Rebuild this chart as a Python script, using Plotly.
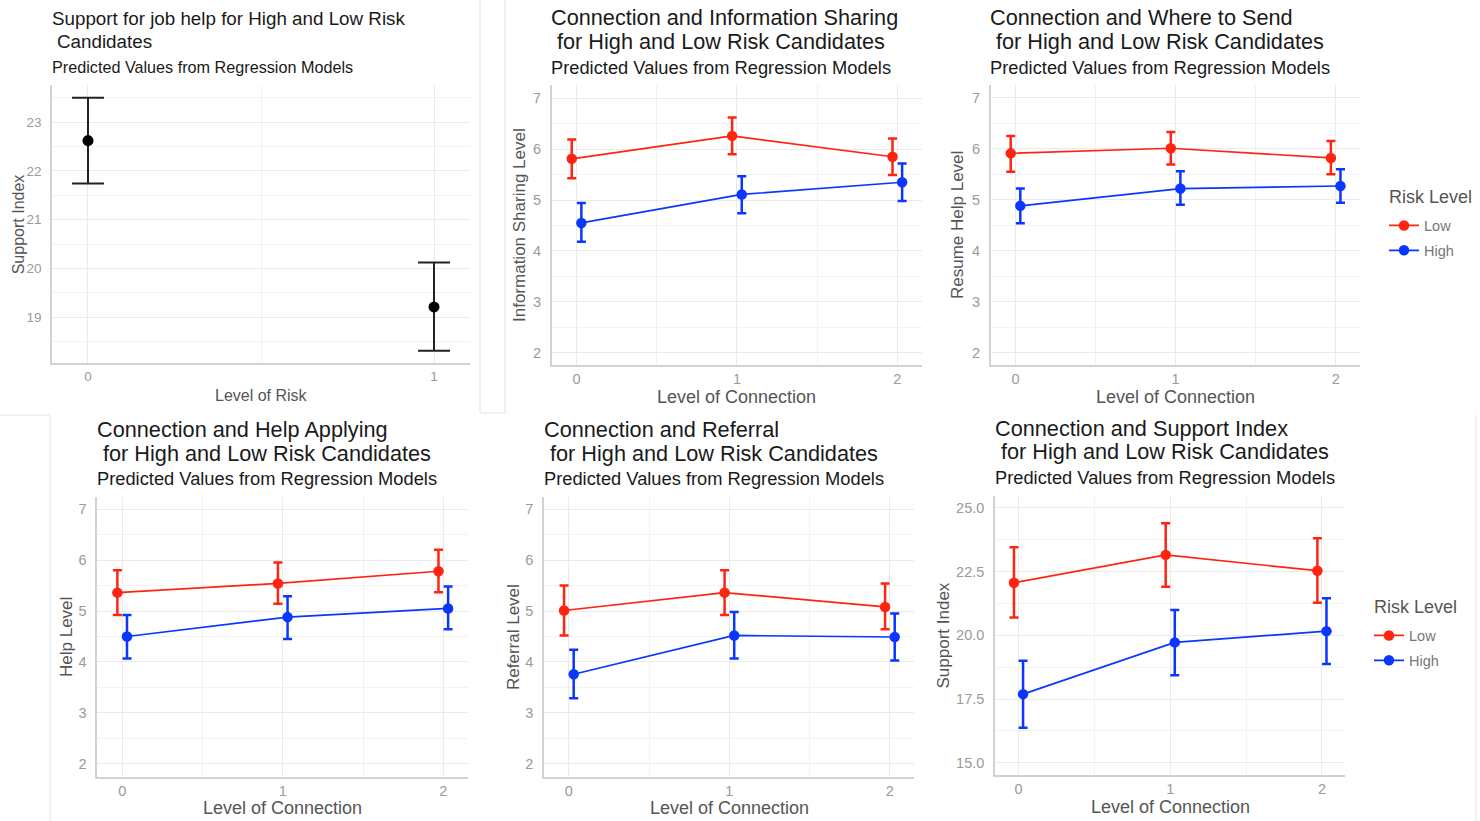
import plotly.graph_objects as go

W, H = 1480, 821

# ---------------- data ----------------
risk_levels = [0, 1]
risk_support = [22.62, 19.21]
risk_support_hi = [23.50, 20.12]
risk_support_lo = [21.74, 18.31]

connection = [0, 1, 2]
series_names = ["Low", "High"]

info_low = [5.81, 6.26, 5.85]
info_low_hi = [6.19, 6.62, 6.21]
info_low_lo = [5.43, 5.90, 5.49]
info_high = [4.55, 5.11, 5.35]
info_high_hi = [4.94, 5.47, 5.72]
info_high_lo = [4.18, 4.74, 4.98]

resume_low = [5.91, 6.01, 5.82]
resume_low_hi = [6.25, 6.33, 6.15]
resume_low_lo = [5.55, 5.69, 5.50]
resume_high = [4.88, 5.22, 5.27]
resume_high_hi = [5.22, 5.56, 5.60]
resume_high_lo = [4.54, 4.90, 4.94]

help_low = [5.36, 5.54, 5.78]
help_low_hi = [5.80, 5.95, 6.20]
help_low_lo = [4.92, 5.14, 5.37]
help_high = [4.50, 4.88, 5.05]
help_high_hi = [4.92, 5.29, 5.48]
help_high_lo = [4.07, 4.45, 4.64]

ref_low = [5.01, 5.36, 5.08]
ref_low_hi = [5.50, 5.80, 5.54]
ref_low_lo = [4.52, 4.92, 4.64]
ref_high = [3.76, 4.52, 4.49]
ref_high_hi = [4.24, 4.98, 4.95]
ref_high_lo = [3.29, 4.07, 4.03]

sup_low = [22.06, 23.15, 22.53]
sup_low_hi = [23.45, 24.39, 23.80]
sup_low_lo = [20.70, 21.90, 21.27]
sup_high = [17.69, 19.72, 20.16]
sup_high_hi = [19.00, 20.99, 21.45]
sup_high_lo = [16.37, 18.43, 18.87]

# ---------------- style ----------------
RED = "#ff2410"
BLUE = "#0a36ff"
GRID = "#ebebeb"
MINOR = "#f2f2f2"
AXLINE = "#d2d2d2"
TICK = "#9a9a9a"
AXTITLE = "#555555"
FONT = "Liberation Sans, Arial, sans-serif"
DODGE = 0.03

fig = go.Figure()


def px_x(p):
    return p / W


def px_y(p):
    return 1 - p / H


# panel geometry (pixels): x0, x1, ytop, ybottom
panels = [
    dict(x0=52, x1=470, yt=85, yb=363),
    dict(x0=551.7, x1=921.7, yt=85, yb=365),
    dict(x0=990.7, x1=1360, yt=85, yb=365),
    dict(x0=97.3, x1=467.7, yt=497.3, yb=776.7),
    dict(x0=544, x1=914.3, yt=497.3, yb=776.7),
    dict(x0=995, x1=1345, yt=496, yb=775),
]

xranges = [[-0.104, 1.104]] + [[-0.155, 2.152]] * 5
yranges = [[18.06, 23.76], [1.76, 7.26], [1.76, 7.25], [1.75, 7.23], [1.75, 7.23], [14.52, 25.46]]
ydt = [1, 1, 1, 1, 1, 2.5]
y0s = [19, 2, 2, 2, 2, 15]

layout_axes = {}
for i, p in enumerate(panels):
    n = "" if i == 0 else str(i + 1)
    tickfont = dict(family=FONT, size=13.5 if i == 0 else 14.5, color=TICK)
    layout_axes["xaxis" + n] = dict(
        domain=[px_x(p["x0"]), px_x(p["x1"])],
        anchor="y" + n,
        range=xranges[i],
        tickmode="linear", tick0=0, dtick=1,
        showgrid=True, gridcolor=GRID, gridwidth=1.2,
        minor=dict(dtick=0.5, tick0=0, showgrid=True, gridcolor=MINOR, gridwidth=1),
        showline=True, linecolor=AXLINE, linewidth=1.6,
        zeroline=False, ticks="", tickfont=tickfont, ticklabelstandoff=0,
        fixedrange=True,
    )
    layout_axes["yaxis" + n] = dict(
        domain=[px_y(p["yb"]), px_y(p["yt"])],
        anchor="x" + n,
        range=yranges[i],
        tickmode="linear", tick0=y0s[i], dtick=ydt[i],
        tickformat=".1f" if i == 5 else "d",
        showgrid=True, gridcolor=GRID, gridwidth=1.2,
        minor=dict(dtick=ydt[i] / 2, tick0=y0s[i], showgrid=True, gridcolor=MINOR, gridwidth=1),
        showline=True, linecolor=AXLINE, linewidth=1.6,
        zeroline=False, ticks="", tickfont=tickfont, ticklabelstandoff=6,
        fixedrange=True,
    )

# ---- panel 1 ----
fig.add_trace(go.Scatter(
    x=risk_levels, y=risk_support, mode="markers",
    marker=dict(color="black", size=11),
    error_y=dict(type="data", symmetric=False,
                 array=[h - v for h, v in zip(risk_support_hi, risk_support)],
                 arrayminus=[v - l for l, v in zip(risk_support_lo, risk_support)],
                 color="#222222", thickness=2, width=16),
    showlegend=False, xaxis="x", yaxis="y",
))


def add_pair(idx, low, low_hi, low_lo, high, high_hi, high_lo, legend=None):
    n = "" if idx == 0 else str(idx + 1)
    for name, vals, hi, lo, col, off in [
        ("Low", low, low_hi, low_lo, RED, -DODGE),
        ("High", high, high_hi, high_lo, BLUE, DODGE),
    ]:
        fig.add_trace(go.Scatter(
            x=[c + off for c in connection], y=vals, name=name,
            mode="lines+markers",
            line=dict(color=col, width=1.7),
            marker=dict(color=col, size=10.5),
            error_y=dict(type="data", symmetric=False,
                         array=[h - v for h, v in zip(hi, vals)],
                         arrayminus=[v - l for l, v in zip(lo, vals)],
                         color=col, thickness=2.5, width=4.5),
            showlegend=legend is not None,
            legend=legend if legend else "legend",
            legendgroup=(legend or "x") + name,
            xaxis="x" + n, yaxis="y" + n,
        ))


add_pair(1, info_low, info_low_hi, info_low_lo, info_high, info_high_hi, info_high_lo)
add_pair(2, resume_low, resume_low_hi, resume_low_lo, resume_high, resume_high_hi, resume_high_lo, legend="legend")
add_pair(3, help_low, help_low_hi, help_low_lo, help_high, help_high_hi, help_high_lo)
add_pair(4, ref_low, ref_low_hi, ref_low_lo, ref_high, ref_high_hi, ref_high_lo)
add_pair(5, sup_low, sup_low_hi, sup_low_lo, sup_high, sup_high_hi, sup_high_lo, legend="legend2")

# ---------------- text ----------------
ann = []


def text(x, y, s, size, color="#1a1a1a", angle=0, xanchor="left"):
    ann.append(dict(x=px_x(x), y=px_y(y), xref="paper", yref="paper", text=s,
                    showarrow=False, xanchor=xanchor, yanchor="middle",
                    textangle=angle, font=dict(family=FONT, size=size, color=color)))


titles = [
    ("Support for job help for High and Low Risk", "Candidates", 52, 57.3, 18.3, 41.3, 66.7, 18.8, 16.2),
    ("Connection and Information Sharing", "for High and Low Risk Candidates", 551.7, 557.3, 18.0, 41.7, 67.7, 21.7, 18.3),
    ("Connection and Where to Send", "for High and Low Risk Candidates", 990.7, 996.7, 18.0, 41.7, 67.7, 21.7, 18.3),
    ("Connection and Help Applying", "for High and Low Risk Candidates", 97.3, 103.3, 429.3, 453.2, 478.8, 21.7, 18.3),
    ("Connection and Referral", "for High and Low Risk Candidates", 544, 550, 429.3, 453.2, 478.8, 21.7, 18.3),
    ("Connection and Support Index", "for High and Low Risk Candidates", 995, 1001.4, 428.0, 451.9, 477.7, 21.7, 18.3),
]
for t1, t2, x1, x2, y1, y2, ys, fs, ss in titles:
    text(x1 - 2.5, y1, t1, fs)
    text(x2 - 2.5, y2, t2, fs)
    text(x1 - 2.5, ys, "Predicted Values from Regression Models", ss)

ytitles = ["Support Index", "Information Sharing Level", "Resume Help Level",
           "Help Level", "Referral Level", "Support Index"]
xtitles = ["Level of Risk"] + ["Level of Connection"] * 5
ytx = [18.3, 520, 958, 66, 513, 943]
xty = [395, 396.7, 396.7, 808.3, 808.3, 806.7]
for i, p in enumerate(panels):
    fs = 16 if i == 0 else 18
    text(ytx[i], (p["yt"] + p["yb"]) / 2, ytitles[i], 16 if i == 0 else 17, AXTITLE, angle=-90, xanchor="center")
    text((p["x0"] + p["x1"]) / 2, xty[i], xtitles[i], fs, AXTITLE, xanchor="center")

# legend titles
text(1389 - 2, 196.7, "Risk Level", 18, "#555555")
text(1373.6 - 2, 606.7, "Risk Level", 18, "#555555")

# screenshot frame lines
frame = [
    (480, 0, 480, 413), (0, 415, 50, 415), (50, 415, 50, 821),
    (505, 0, 505, 413), (480, 413, 505, 413), (1476, 415, 1476, 821),
]
shapes = [dict(type="line", xref="paper", yref="paper",
               x0=px_x(a), y0=px_y(b), x1=px_x(c), y1=px_y(d),
               line=dict(color="#e3e3e3", width=1)) for a, b, c, d in frame]

legend_common = dict(
    xanchor="left", yanchor="top", bgcolor="rgba(0,0,0,0)",
    font=dict(family=FONT, size=14.5, color="#777777"),
    itemwidth=30, tracegroupgap=3,
)

fig.update_layout(
    width=W, height=H,
    margin=dict(l=0, r=0, t=0, b=0),
    paper_bgcolor="white", plot_bgcolor="white",
    annotations=ann, shapes=shapes,
    legend=dict(x=px_x(1384), y=px_y(209.5), **legend_common),
    legend2=dict(x=px_x(1369), y=px_y(619.5), **legend_common),
    **layout_axes,
)

fig.write_html("out.html")
